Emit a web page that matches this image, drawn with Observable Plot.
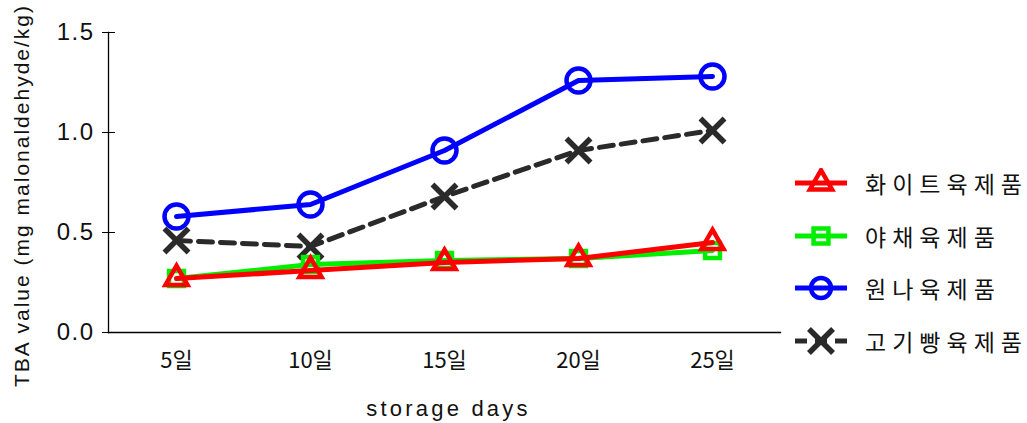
<!DOCTYPE html>
<html>
<head>
<meta charset="utf-8">
<script src="https://cdn.jsdelivr.net/npm/d3@7"></script>
<script src="https://cdn.jsdelivr.net/npm/@observablehq/plot@0.6"></script>
<style>
  html, body { margin: 0; padding: 0; background: #fff; overflow: hidden; }
  #wrap { position: relative; width: 1027px; height: 423px; overflow: hidden; font-family: "Liberation Sans", "Noto Sans CJK KR", sans-serif; }
  #legend { position: absolute; left: 793px; top: 157px; width: 260px; }
  .row { display: flex; align-items: center; height: 52.5px; white-space: nowrap; }
  .row svg { flex: none; }
  .row span { margin-left: 16px; font-size: 23px; letter-spacing: 6px; color: #111; font-family: "Noto Sans CJK KR", sans-serif; font-weight: 400; white-space: nowrap; }
</style>
</head>
<body>
<div id="wrap"></div>
<script>
// Storage day categories
const days = ["5일", "10일", "15일", "20일", "25일"];

// TBA values per product (mg malonaldehyde/kg)
const white = [0.27, 0.31, 0.35, 0.37, 0.45];
const veg = [0.27, 0.34, 0.36, 0.37, 0.41];
const raw = [0.58, 0.64, 0.91, 1.26, 1.28];
const bread = [0.46, 0.43, 0.68, 0.91, 1.01];

const seriesNames = ["화이트육제품", "야채육제품", "원나육제품", "고기빵육제품"];
const yTicks = [0, 0.5, 1.0, 1.5];

const yTitle = "TBA value (mg malonaldehyde/kg)";
const xTitle = "storage days";

const styles = [
  { name: seriesNames[0], values: white, color: "#ff0000", symbol: "triangle", r: 8.2, dash: null },
  { name: seriesNames[1], values: veg, color: "#00ee00", symbol: "square", r: 8.4, dash: null },
  { name: seriesNames[2], values: raw, color: "#0000ff", symbol: "circle", r: 12, dash: null },
  { name: seriesNames[3], values: bread, color: "#2a2a2a", symbol: "times", r: 11, dash: "14,8" }
];

const rows = s => s.values.map((v, i) => ({ day: days[i], value: v }));

// draw order: dashed, blue, green, red on top
const drawOrder = [styles[3], styles[2], styles[1], styles[0]];

const marks = [];
for (const s of drawOrder) {
  marks.push(Plot.line(rows(s), {
    x: "day", y: "value", stroke: s.color, strokeWidth: 5,
    strokeDasharray: s.dash, strokeLinejoin: "round"
  }));
  marks.push(Plot.dot(rows(s), {
    x: "day", y: "value", stroke: s.color, fill: "none",
    symbol: s.symbol, r: s.r, strokeWidth: s.symbol === "times" ? 5.5 : 4.5
  }));
}

const chart = Plot.plot({
  width: 1027,
  height: 423,
  marginLeft: 108,
  marginRight: 247,
  marginTop: 32,
  marginBottom: 91,
  style: { fontFamily: "Liberation Sans, Noto Sans CJK KR, sans-serif", background: "#fff", overflow: "visible" },
  x: { type: "point", domain: days, padding: 0.5 },
  y: { domain: [0, 1.5] },
  marks: [
    Plot.frame({ anchor: "left", stroke: "#000", strokeWidth: 1.3 }),
    Plot.frame({ anchor: "bottom", stroke: "#000", strokeWidth: 1.3 }),
    // tick marks crossing the y axis
    Plot.axisY({ ticks: yTicks, tickSize: 13, dx: 7, tickFormat: () => "", label: null, stroke: "#000" }),
    // y tick labels
    Plot.axisY({ ticks: yTicks, tickSize: 0, tickPadding: 14, tickFormat: d3.format(".1f"),
      label: null, fontSize: 24, fill: "#111" }),
    // x tick labels
    Plot.axisX({ tickSize: 0, tickPadding: 20, fontSize: 22, label: null, fill: "#111",
      fontFamily: "Noto Sans CJK KR, sans-serif" }),
    // axis titles
    Plot.text([yTitle], {
      frameAnchor: "left", rotate: -90, dx: -86, dy: 13, fontSize: 21, fill: "#111",
      textAnchor: "middle", lineAnchor: "middle"
    }),
    Plot.text([xTitle], {
      frameAnchor: "bottom", dx: 4, dy: 76, fontSize: 22, fill: "#111", lineAnchor: "middle"
    }),
    ...marks
  ]
});

// letter spacing for the axis texts
d3.select(chart).selectAll("text").each(function () {
  const t = this.textContent;
  if (t === yTitle) d3.select(this).attr("letter-spacing", 2.0);
  else if (t === xTitle) d3.select(this).attr("letter-spacing", 3.2);
  else if (/^\d\.\d$/.test(t)) d3.select(this).attr("letter-spacing", 1.5);
});

const wrap = document.getElementById("wrap");
wrap.appendChild(chart);

// Legend
const legend = document.createElement("div");
legend.id = "legend";
const symbolPaths = {
  triangle: d3.symbol(d3.symbolTriangle, Math.PI * 8.2 * 8.2)(),
  square: d3.symbol(d3.symbolSquare, Math.PI * 8.4 * 8.4)(),
  circle: d3.symbol(d3.symbolCircle, Math.PI * 10 * 10)(),
  times: d3.symbol(d3.symbolTimes, Math.PI * 11 * 11)()
};
for (const s of styles) {
  const row = document.createElement("div");
  row.className = "row";
  const svg = d3.create("svg").attr("width", 56).attr("height", 30);
  svg.append("line").attr("x1", 2).attr("x2", 54).attr("y1", 15).attr("y2", 15)
    .attr("stroke", s.color).attr("stroke-width", 5).attr("stroke-dasharray", s.dash ? "12,8" : null);
  svg.append("path").attr("d", symbolPaths[s.symbol]).attr("transform", "translate(28,15)")
    .attr("fill", "none").attr("stroke", s.color).attr("stroke-width", s.symbol === "times" ? 5.5 : 4.5);
  row.appendChild(svg.node());
  const label = document.createElement("span");
  label.textContent = s.name;
  row.appendChild(label);
  legend.appendChild(row);
}
wrap.appendChild(legend);
</script>
</body>
</html>
